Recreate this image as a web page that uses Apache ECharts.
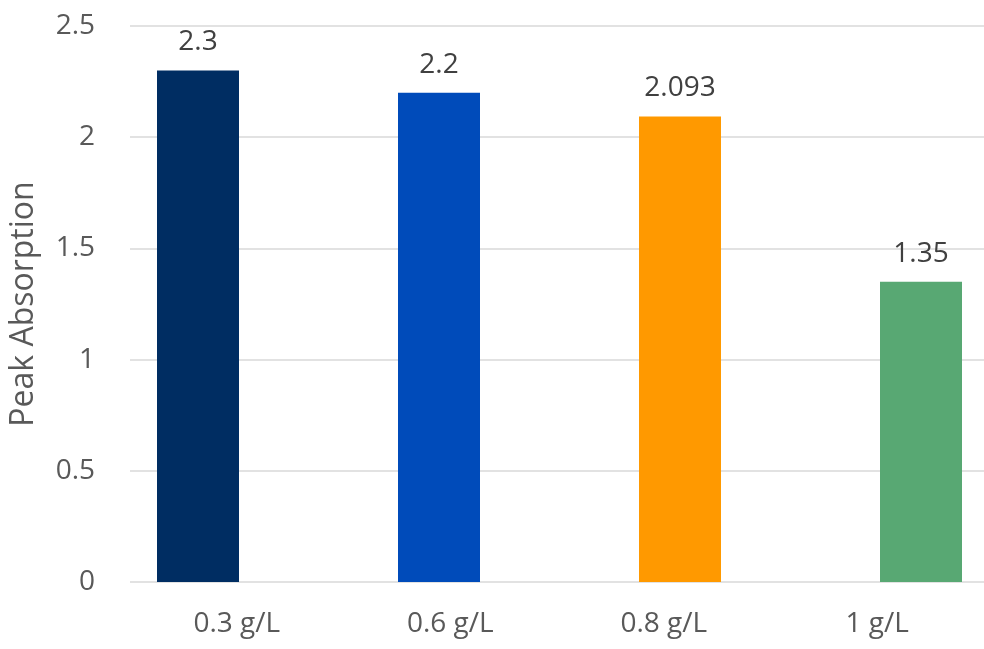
<!DOCTYPE html>
<html>
<head>
<meta charset="utf-8">
<script src="https://cdn.jsdelivr.net/npm/echarts@6/dist/echarts.min.js"></script>
<style>
  html, body { margin: 0; padding: 0; background: #fff; }
  #chart { width: 984px; height: 649px; }
</style>
</head>
<body>
<div id="chart"></div>
<script>
// Peak absorption by concentration
const categories = ['0.3 g/L', '0.6 g/L', '0.8 g/L', '1 g/L'];
const peakAbsorption = [2.3, 2.2, 2.093, 1.35];
const labelText = ['2.3', '2.2', '2.093', '1.35'];
const barColors = ['#002D62', '#004BBA', '#FF9900', '#58A873'];
const yMin = 0, yMax = 2.5, yStep = 0.5;

const FONT = 'Open Sans';
const chart = echarts.init(document.getElementById('chart'), null, { renderer: 'canvas' });

chart.setOption({
  animation: false,
  backgroundColor: '#ffffff',
  grid: [
    // gridlines, value labels and category labels
    { left: 130, width: 854, top: 26, height: 556, outerBoundsMode: 'none', containLabel: false },
    // bars (category band 241px wide)
    { left: 77.5, width: 964, top: 26, height: 556, outerBoundsMode: 'none', containLabel: false }
  ],
  xAxis: [
    {
      type: 'category', gridIndex: 0, data: categories,
      axisLine: { show: false },
      axisTick: { show: false },
      axisLabel: { color: '#595959', fontFamily: FONT, fontSize: 28, margin: 28 }
    },
    { type: 'category', gridIndex: 1, data: categories, show: false }
  ],
  yAxis: [
    {
      type: 'value', gridIndex: 0, min: yMin, max: yMax, interval: yStep,
      name: 'Peak Absorption', nameLocation: 'middle', nameGap: 90,
      nameTextStyle: { color: '#595959', fontFamily: FONT, fontSize: 32 },
      axisLine: { show: false }, axisTick: { show: false },
      axisLabel: { color: '#595959', fontFamily: FONT, fontSize: 28, margin: 35 },
      splitLine: { lineStyle: { color: '#D9D9D9', width: 1.5 } }
    },
    {
      type: 'value', gridIndex: 1, min: yMin, max: yMax, interval: yStep,
      show: false, splitLine: { show: false }
    }
  ],
  series: [{
    type: 'bar',
    xAxisIndex: 1, yAxisIndex: 1,
    barWidth: 82,
    data: peakAbsorption.map((v, i) => ({ value: v, itemStyle: { color: barColors[i] } })),
    label: {
      show: true, position: 'top', distance: 14,
      color: '#404040', fontFamily: FONT, fontSize: 28,
      formatter: p => labelText[p.dataIndex]
    }
  }]
});
</script>
</body>
</html>
